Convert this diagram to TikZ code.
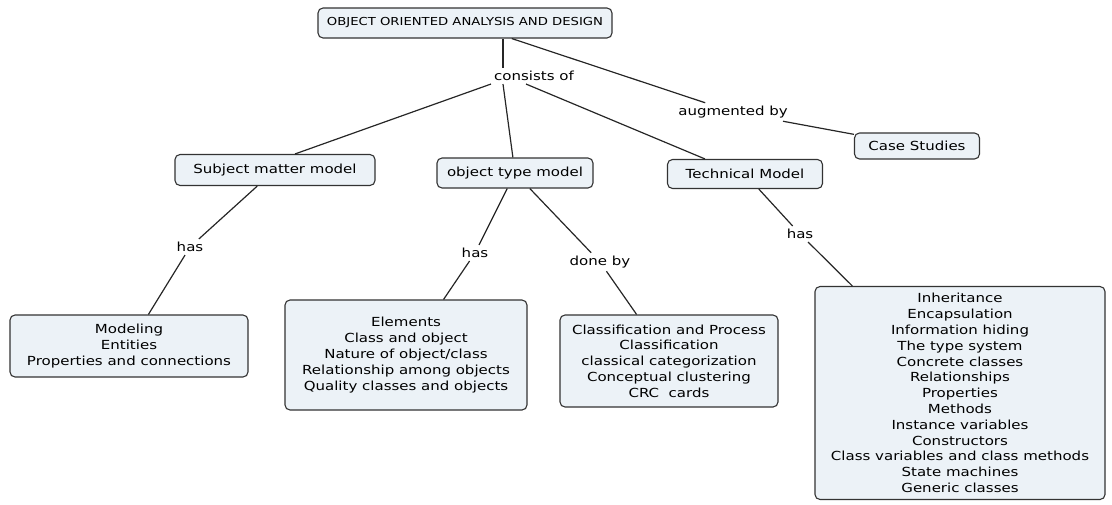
\documentclass[tikz,border=0pt]{standalone}
\usepackage{fontspec}
\setmainfont{DejaVu Sans}[FakeStretch=1.2]
\usepackage{xcolor}
\definecolor{boxfill}{RGB}{236,242,247}
\usetikzlibrary{positioning}

\begin{document}
\begin{tikzpicture}[x=1pt, y=-1pt, font=\fontsize{12.5}{15.8}\selectfont,
  box/.style={draw=black!80, line width=1.1pt, rounded corners=5pt, align=center, fill=boxfill, inner xsep=6pt, inner ysep=6pt},
  lbl/.style={align=center, inner sep=3pt},
  link/.style={draw=black!85, line width=1.2pt}]
  \useasboundingbox (0,0) rectangle (1112,504);
  \node[box, font=\fontsize{11}{13}\selectfont, minimum width=294pt, minimum height=30pt] (ooad) at (465,23) {OBJECT ORIENTED ANALYSIS AND DESIGN};
  \node[lbl] (cons) at (534,76) {consists of};
  \node[lbl] (aug) at (733,112) {augmented by};
  \node[box, minimum width=125pt, minimum height=26pt] (case) at (917,146) {Case Studies};
  \node[box, minimum width=200pt, minimum height=31pt] (subj) at (275,170) {Subject matter model};
  \node[box, minimum width=156pt, minimum height=30pt] (otm) at (515,173) {object type model};
  \node[box, minimum width=155pt, minimum height=29pt] (tech) at (745,174) {Technical Model};
  \node[lbl] (has1) at (190,247) {has};
  \node[lbl] (has2) at (475,253) {has};
  \node[lbl] (done) at (600,262) {done by};
  \node[lbl] (has3) at (800,234) {has};
  \node[box, minimum width=238pt, minimum height=62pt] (mod) at (129,346) {Modeling\\Entities\\Properties and connections};
  \node[box, minimum width=242pt, minimum height=110pt] (elem) at (406,355) {Elements\\Class and object\\Nature of object/class\\Relationship among objects\\Quality classes and objects};
  \node[box, minimum width=218pt, minimum height=92pt] (cls) at (669,361) {Classification and Process\\Classification\\classical categorization\\Conceptual clustering\\CRC~~cards};
  \node[box, minimum width=290pt, minimum height=213pt] (inh) at (960,393) {Inheritance\\Encapsulation\\Information hiding\\The type system\\Concrete classes\\Relationships\\Properties\\Methods\\Instance variables\\Constructors\\Class variables and class methods\\State machines\\Generic classes};
  % links
  \draw[link] ([xshift=-31pt]cons.north) -- ([xshift=-31pt]cons.north |- ooad.south);
  \draw[link] (ooad) -- (aug); \draw[link] (aug) -- (case);
  \draw[link] (cons.south west) -- ([xshift=20pt]subj.north); \draw[link] ([xshift=-31pt]cons.south) -- (otm); \draw[link] ([xshift=-8pt]cons.south) -- ([xshift=-40pt]tech.north);
  \draw[link] (subj) -- (has1); \draw[link] (has1) -- (mod);
  \draw[link] (otm) -- (has2); \draw[link] (has2) -- (elem);
  \draw[link] (otm) -- (done); \draw[link] (done) -- (cls);
  \draw[link] (tech) -- (has3); \draw[link] (has3) -- (inh);
\end{tikzpicture}
\end{document}
